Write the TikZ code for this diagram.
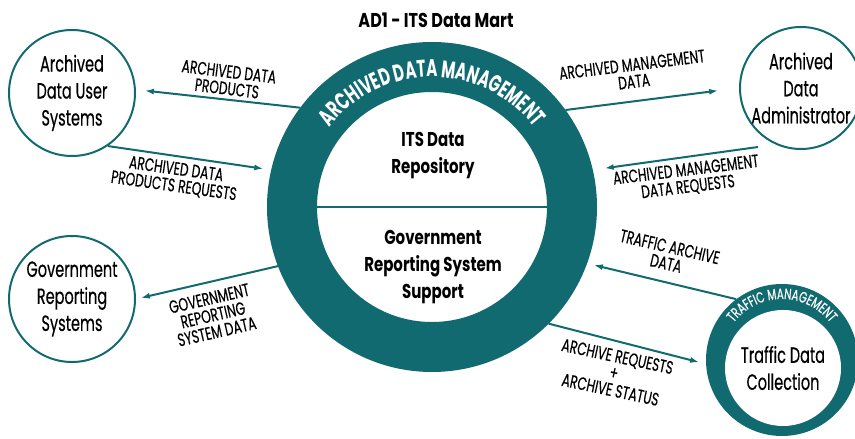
\documentclass[tikz,border=0pt]{standalone}
\usepackage{fontspec}
\setmainfont[FakeStretch=0.66,FakeBold=0.4]{Poppins}
\newfontfamily\labelfont[FakeStretch=0.68,FakeBold=0.4]{Poppins}
\newfontfamily\ringfont[FakeStretch=0.63]{Poppins}
\newfontfamily\titlefont[FakeStretch=0.8]{Poppins}
\newfontfamily\insidefont[FakeStretch=0.75]{Poppins}
\usepackage{tikz}
\usetikzlibrary{arrows.meta,decorations.text}
\definecolor{admteal}{RGB}{18,106,113}
\newcommand{\ringcolor}{admteal}
\newcommand{\thinline}{2pt}
\newcommand{\ringwidth}{50pt}

\begin{document}
\begin{tikzpicture}[x=1pt,y=1pt,
  system/.style={circle, draw=\ringcolor, line width=\thinline, align=center, inner sep=0pt, font=\fontsize{22}{27}\selectfont},
  flow/.style={draw=\ringcolor, line width=\thinline, -{Latex[length=9pt,width=6pt]}},
  flowlabel/.style={align=center, inner sep=0pt, font=\labelfont\fontsize{18}{17}\selectfont},
  inside/.style={align=center, font=\insidefont\fontsize{20}{27}\selectfont\bfseries}]
\useasboundingbox (0,0) rectangle (855,439);
\node[font=\titlefont\fontsize{20}{20}\selectfont\bfseries] (title) at (436,419) {AD1 - ITS Data Mart};
%ring
\draw[\ringcolor] [line width = 1.5pt] (317,232) -- (547,232);
\node[circle, draw=\ringcolor] (ring) at (432,232) [line width=\ringwidth, minimum size=280pt] {};
\path[decorate, decoration={text along path, text align=center, text color=white,
  text={|\ringfont\fontsize{24}{24}\selectfont\bfseries|ARCHIVED DATA MANAGEMENT}}]
  (ring.center) ++(150:130) arc (150:30:130);
\node[inside] (repo) at (433,283) {ITS Data\\Repository};
\node[inside] (grss) at (433,172) {Government\\Reporting System\\Support};
%systems
\node[system] (users) at (72,346) [minimum size=126pt] {Archived\\Data User\\Systems};
\node[system] (govt) at (72,140) [minimum size=126pt] {Government\\Reporting\\Systems};
\node[system] (admin) at (801,351) [minimum size=122pt] {Archived\\Data\\Administrator};
\node[circle, fill=\ringcolor] (traffic) at (782,79) [minimum size=152pt] {};
\node[circle, fill=white, align=center, inner sep=0pt, font=\fontsize{22}{27}\selectfont] (tdc) at (783,71) [minimum size=116pt] {Traffic Data\\Collection};
\path[decorate, decoration={text along path, text align=center, text color=white,
  text={|\labelfont\fontsize{15}{15}\selectfont|TRAFFIC MANAGEMENT}}]
  (traffic.center) ++(150:61) arc (150:30:61);
%flows
\coordinate (admreq) at (758,292);
\draw[flow, shorten >=9pt] (ring.143) -- (users.3);
\draw[flow, shorten >=8pt] (users.-56) -- (ring.167);
\draw[flow, shorten >=21pt] (ring.36) -- (admin.west);
\draw[flow, shorten >=12pt] (admreq) -- (ring.13);
\draw[flow, shorten >=5pt] (ring.201) -- (govt.east);
\draw[flow, shorten >=7pt] (traffic.127) -- (ring.-20);
\draw[flow, shorten >=7pt] (ring.-45) -- (traffic.183);
%labels
\node[flowlabel, rotate=-7] (prodlbl) at (228,359) {ARCHIVED DATA\\PRODUCTS};
\node[flowlabel, rotate=-8] (prodreqlbl) at (175,261) {ARCHIVED DATA\\PRODUCTS REQUESTS};
\node[flowlabel, rotate=7] (mgmtlbl) at (633,366) {ARCHIVED MANAGEMENT\\DATA};
\node[flowlabel, rotate=7] (mgmtreqlbl) at (687,260) {ARCHIVED MANAGEMENT\\DATA REQUESTS};
\node[flowlabel, rotate=13] (govlbl) at (213,124) {GOVERNMENT\\REPORTING\\SYSTEM DATA};
\node[flowlabel, rotate=-13] (archlbl) at (668,184) {TRAFFIC ARCHIVE\\DATA};
\node[flowlabel, rotate=-12] (statlbl) at (614,66) {ARCHIVE REQUESTS\\+\\ARCHIVE STATUS};
\end{tikzpicture}
\end{document}
